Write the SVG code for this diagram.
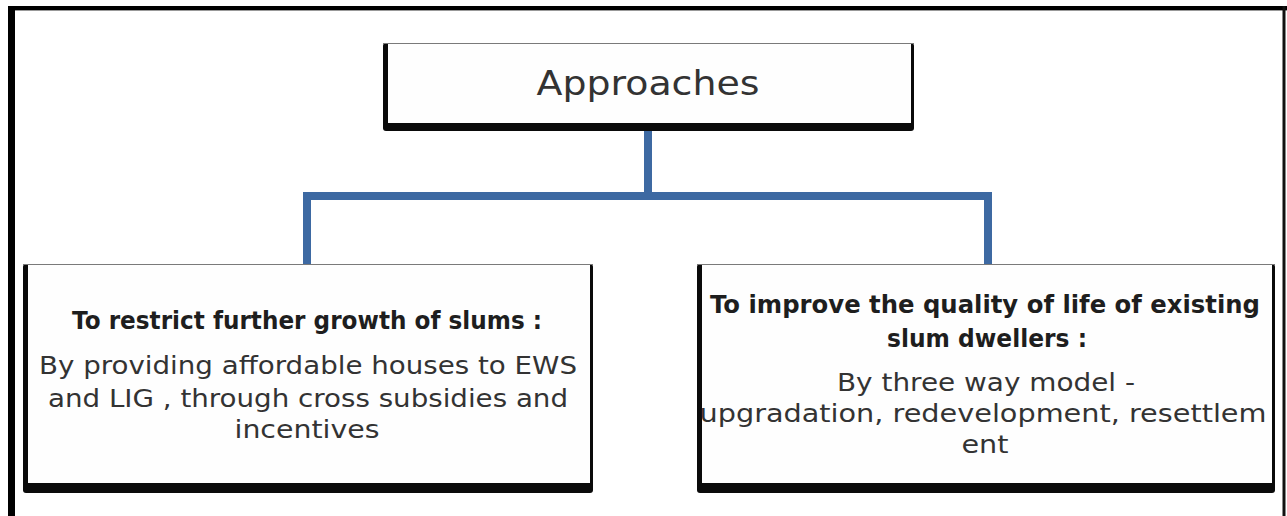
<svg xmlns="http://www.w3.org/2000/svg" width="1287" height="516" viewBox="0 0 1287 516">
  <style>
    .shadow { fill: #0a0a0a; }
    .face { fill: #fefefe; }
    .edge { stroke: #7a7a7a; stroke-width: 1.2; }
    .conn { fill: none; stroke: #3d69a2; stroke-width: 8; stroke-linejoin: miter; }
    .head { font-family: "DejaVu Sans", "Liberation Sans", sans-serif; font-weight: bold; font-size: 25px; fill: #1e1e1e; text-anchor: middle; }
    .body { font-family: "DejaVu Sans", "Liberation Sans", sans-serif; font-size: 24px; fill: #333333; text-anchor: middle; }
    .title { font-family: "DejaVu Sans", "Liberation Sans", sans-serif; font-size: 34px; fill: #333333; text-anchor: middle; }
  </style>
  <rect x="0" y="0" width="1287" height="516" fill="#ffffff"/>
  <g id="frame">
    <line x1="8" y1="8" x2="1287" y2="8" stroke="#000" stroke-width="4"/>
    <line x1="8" y1="10.5" x2="1287" y2="10.5" stroke="#999" stroke-width="1"/>
    <line x1="11.5" y1="6" x2="11.5" y2="516" stroke="#000" stroke-width="7"/>
    <line x1="1284" y1="6" x2="1284" y2="516" stroke="#111" stroke-width="3"/>
  </g>
  <g id="connectors">
    <path class="conn" d="M648 125 V196"/>
    <path class="conn" d="M307 264 V196 H988 V264"/>
  </g>
  <g id="approaches">
    <rect class="shadow" x="383" y="43" width="531" height="88" rx="3"/>
    <rect class="face" x="388" y="44" width="523" height="79"/>
    <line class="edge" x1="383" y1="43.5" x2="914" y2="43.5"/>
    <text class="title" x="648" y="95" textLength="223" lengthAdjust="spacingAndGlyphs">Approaches</text>
  </g>
  <g id="restrict">
    <rect class="shadow" x="23" y="264" width="570" height="229" rx="3"/>
    <rect class="face" x="28" y="265" width="562" height="218"/>
    <line class="edge" x1="23" y1="264.5" x2="593" y2="264.5"/>
    <text class="head" x="307" y="329" textLength="470" lengthAdjust="spacingAndGlyphs">To restrict further growth of slums :</text>
    <text class="body" x="308" y="374" textLength="538" lengthAdjust="spacingAndGlyphs">By providing affordable houses to EWS</text>
    <text class="body" x="308" y="407" textLength="520" lengthAdjust="spacingAndGlyphs">and LIG , through cross subsidies and</text>
    <text class="body" x="307" y="438" textLength="145" lengthAdjust="spacingAndGlyphs">incentives</text>
  </g>
  <g id="improve">
    <rect class="shadow" x="697" y="264" width="578" height="229" rx="3"/>
    <rect class="face" x="702" y="265" width="570" height="218"/>
    <line class="edge" x1="697" y1="264.5" x2="1275" y2="264.5"/>
    <text class="head" x="985" y="313" textLength="550" lengthAdjust="spacingAndGlyphs">To improve the quality of life of existing</text>
    <text class="head" x="987" y="347" textLength="200" lengthAdjust="spacingAndGlyphs">slum dwellers :</text>
    <text class="body" x="986" y="391" textLength="298" lengthAdjust="spacingAndGlyphs">By three way model -</text>
    <text class="body" x="983" y="422" textLength="567" lengthAdjust="spacingAndGlyphs">upgradation, redevelopment, resettlem</text>
    <text class="body" x="985" y="453" textLength="47" lengthAdjust="spacingAndGlyphs">ent</text>
  </g>
</svg>
